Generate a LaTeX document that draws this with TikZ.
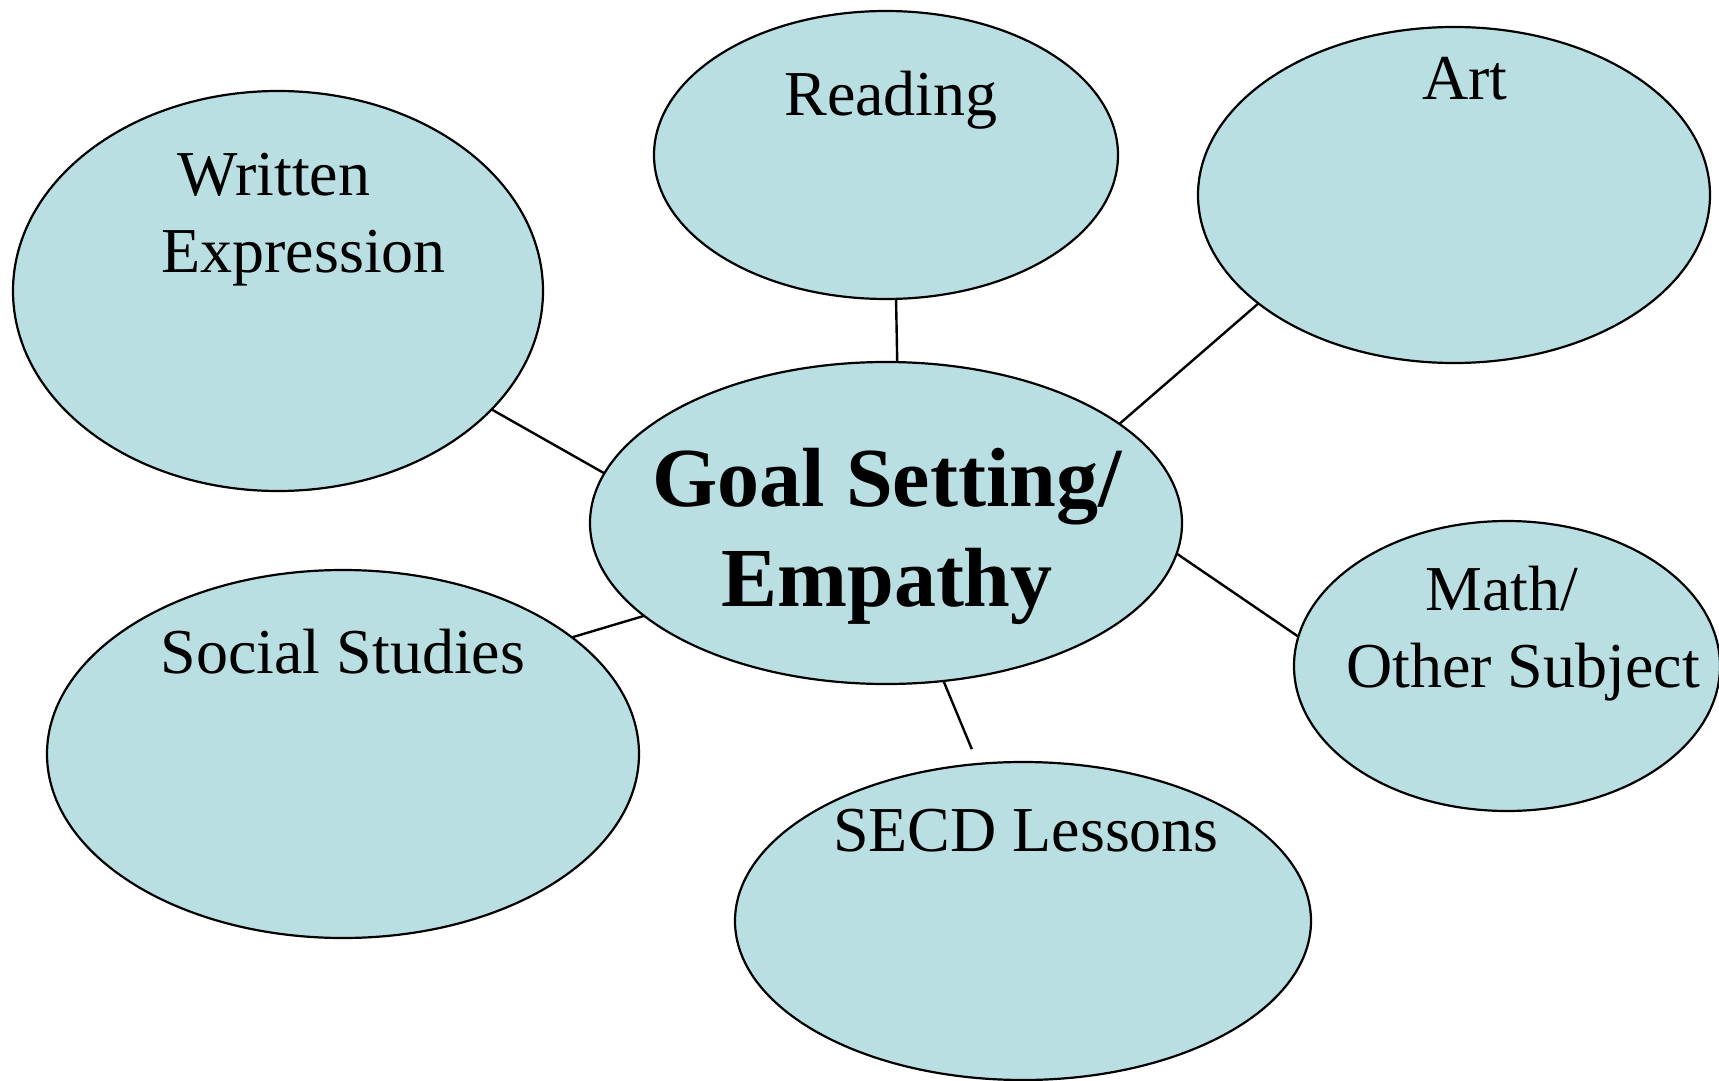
\documentclass[tikz,border=0pt]{standalone}
\usepackage{fontspec}
\setmainfont{Liberation Serif}
\usetikzlibrary{shapes.geometric}
\definecolor{bubblefill}{HTML}{B9DFE3}

\begin{document}
\begin{tikzpicture}[x=0.5pt,y=-0.5pt,
    bubble/.style={ellipse, draw, line width=1.1pt, fill=bubblefill, inner sep=0pt, outer sep=0pt},
    lbl/.style={anchor=base, inner sep=0pt, font=\fontsize{32}{38.5}\selectfont},
    link/.style={line width=1.2pt}]
  \useasboundingbox (0,0) rectangle (1719,1081);
  \clip (0,0) rectangle (1719,1081);
  % the bubbles
  \node[bubble, minimum width=265pt, minimum height=200pt] (written) at (278,291) {};
  \node[bubble, minimum width=232pt, minimum height=144pt] (read) at (886,155) {};
  \node[bubble, minimum width=256pt, minimum height=168pt] (art) at (1454,195) {};
  \node[bubble, minimum width=296pt, minimum height=161pt] (goal) at (886,523) {};
  \node[bubble, minimum width=213pt, minimum height=145pt] (math) at (1507,666) {};
  \node[bubble, minimum width=296pt, minimum height=184pt] (social) at (343,754) {};
  \node[bubble, minimum width=288pt, minimum height=159pt] (secd) at (1023,921) {};
  % their texts (base = last line)
  \node[lbl, anchor=base west, align=left] (writtentxt) at (161,272) {\hspace*{8pt}Written\\Expression};
  \node[lbl] (readtxt) at (891,116) {Reading};
  \node[lbl] (arttxt) at (1465,100) {Art};
  \node[lbl, align=center, font=\bfseries\fontsize{42}{50}\selectfont] (goaltxt) at (887,606) {Goal Setting/\\Empathy};
  \node[lbl, align=center] (mathtxt) at (1523,687) {Math/\hspace*{21pt}\\Other Subject};
  \node[lbl] (socialtxt) at (343,673) {Social Studies};
  \node[lbl] (secdtxt) at (1026,851) {SECD Lessons};
  % spokes
  \draw[link] (read.-86) -- (goal.86);
  \draw[link] (art.209) -- (goal.23);
  \draw[link] (written.-29) -- (goal.170);
  \draw[link] (goal.-6) -- (math.172);
  \draw[link] (social.27) -- (goal.201);
  \draw[link, shorten >=8pt] (goal.-70) -- (secd.106);
\end{tikzpicture}
\end{document}
